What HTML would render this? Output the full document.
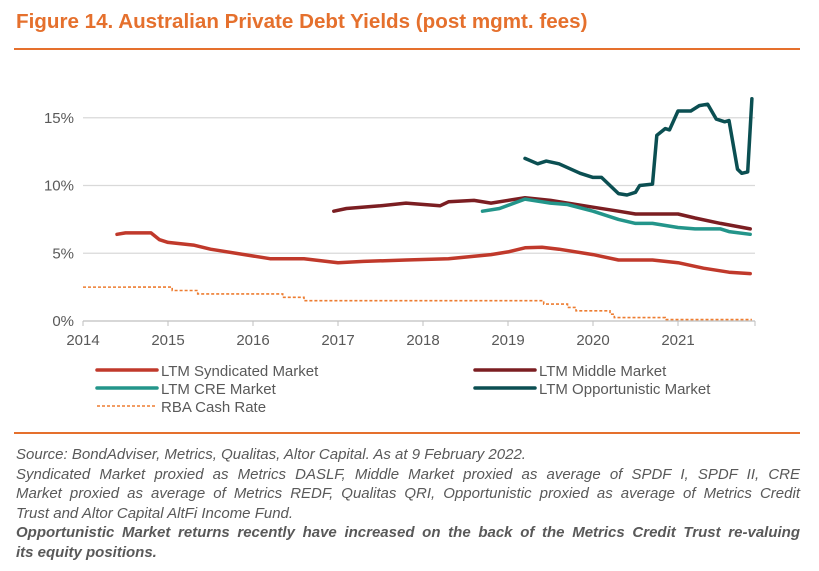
<!DOCTYPE html>
<html><head><meta charset="utf-8">
<style>
body{margin:0;width:819px;height:571px;background:#fff;overflow:hidden;font-family:"Liberation Sans Narrow","Liberation Sans",sans-serif;color:#595959}
.title{position:absolute;left:16px;top:10px;font-size:20.6px;font-weight:bold;color:#e5702d;white-space:nowrap}
.rule{position:absolute;left:14px;width:786px;height:2px;background:#e5702d}
.foot{position:absolute;left:16px;width:784px;font-size:15px;font-style:italic;line-height:19.5px;color:#595959}
.j{text-align:justify;text-align-last:justify;white-space:nowrap}
svg{position:absolute;left:0;top:0}
</style></head><body>
<div class="title">Figure 14. Australian Private Debt Yields (post mgmt. fees)</div>
<div class="rule" style="top:48px"></div>
<svg id="chart" width="819" height="430"></svg>
<div class="rule" style="top:432px"></div>
<div class="foot" style="top:445px">
<div>Source: BondAdviser, Metrics, Qualitas, Altor Capital. As at 9 February 2022.</div>
<div class="j">Syndicated Market proxied as Metrics DASLF, Middle Market proxied as average of SPDF I, SPDF II, CRE</div>
<div class="j">Market proxied as average of Metrics REDF, Qualitas QRI, Opportunistic proxied as average of Metrics Credit</div>
<div>Trust and Altor Capital AltFi Income Fund.</div>
<div class="j" style="font-weight:bold">Opportunistic Market returns recently have increased on the back of the Metrics Credit Trust re-valuing</div>
<div style="font-weight:bold">its equity positions.</div>
</div>
<script>
const yTicks=[0,5,10,15];
const xTicks=[2014,2015,2016,2017,2018,2019,2020,2021];
const synT=[2014.4,2014.5,2014.8,2014.9,2015,2015.3,2015.5,2016,2016.2,2016.6,2017,2017.3,2017.8,2018.3,2018.8,2019,2019.2,2019.4,2019.6,2020,2020.3,2020.7,2021,2021.3,2021.6,2021.85];
const synV=[6.4,6.5,6.5,6.0,5.8,5.6,5.3,4.8,4.6,4.6,4.3,4.4,4.5,4.6,4.9,5.1,5.4,5.45,5.3,4.9,4.5,4.5,4.3,3.9,3.6,3.5];
const midT=[2016.95,2017.1,2017.5,2017.8,2018.2,2018.3,2018.6,2018.8,2019.2,2019.5,2020,2020.3,2020.5,2021,2021.2,2021.5,2021.85];
const midV=[8.1,8.3,8.5,8.7,8.5,8.8,8.9,8.7,9.1,8.9,8.4,8.1,7.9,7.9,7.6,7.2,6.8];
const creT=[2018.7,2018.9,2019.2,2019.5,2019.7,2020,2020.3,2020.5,2020.7,2021,2021.2,2021.5,2021.6,2021.85];
const creV=[8.1,8.3,9.0,8.7,8.6,8.1,7.5,7.2,7.2,6.9,6.8,6.8,6.6,6.4];
const oppT=[2019.2,2019.35,2019.45,2019.6,2019.85,2020,2020.1,2020.2,2020.3,2020.4,2020.5,2020.55,2020.7,2020.75,2020.85,2020.9,2021,2021.15,2021.25,2021.35,2021.45,2021.55,2021.6,2021.7,2021.75,2021.82,2021.87];
const oppV=[12.0,11.6,11.8,11.6,10.9,10.6,10.6,10.0,9.4,9.3,9.5,10.0,10.1,13.7,14.2,14.1,15.5,15.5,15.9,16.0,14.9,14.7,14.8,11.2,10.9,11.0,16.4];
const cashT=[2014,2015.05,2015.35,2016.35,2016.6,2019.42,2019.7,2019.8,2020.2,2020.25,2020.85,2021.87];
const cashV=[2.5,2.25,2.0,1.75,1.5,1.25,1.0,0.75,0.5,0.25,0.1,0.1];

const X=t=>83+85*(t-2014), Y=v=>321-v*13.55;
const svg=document.getElementById('chart'),NS='http://www.w3.org/2000/svg';
function el(tag,a,txt){const e=document.createElementNS(NS,tag);for(const k in a)e.setAttribute(k,a[k]);if(txt!=null)e.textContent=txt;svg.appendChild(e);return e;}
yTicks.forEach(v=>{
 if(v>0){const g=el('line',{x1:83,x2:755,y1:Y(v),y2:Y(v),stroke:'#d9d9d9','stroke-width':1.3});
 
 }
 const t=el('text',{x:74,y:Y(v)+5,'text-anchor':'end','font-size':15,fill:'#595959'},v+'%');
 
 
});
const ax=el('line',{x1:83,x2:755,y1:321,y2:321,stroke:'#bfbfbf','stroke-width':1.3});


xTicks.forEach(y=>{
 el('line',{x1:X(y),x2:X(y),y1:321,y2:326,stroke:'#bfbfbf'});
 const t=el('text',{x:X(y),y:345,'text-anchor':'middle','font-size':15,fill:'#595959'},y);
 
 
});
el('line',{x1:755,x2:755,y1:321,y2:326,stroke:'#bfbfbf'});
function series(T,V,color,name,w){
 const d=T.map((t,i)=>(i?'L':'M')+X(t).toFixed(1)+','+Y(V[i]).toFixed(1)).join('');
 const p=el('path',{d:d,fill:'none',stroke:color,'stroke-width':w,'stroke-linejoin':'round','stroke-linecap':'round'});
 
 
}
let cd='M'+X(cashT[0])+','+Y(cashV[0]);
for(let i=1;i<cashT.length;i++){cd+='L'+X(cashT[i]).toFixed(1)+','+Y(cashV[i-1]).toFixed(1)+'L'+X(cashT[i]).toFixed(1)+','+Y(cashV[i]).toFixed(1);}
const cp=el('path',{d:cd,fill:'none',stroke:'#ed7d31','stroke-width':1.6,'stroke-dasharray':'3,2'});


series(synT,synV,'#c0392b','series-syndicated',3.5);
series(midT,midV,'#7b1e22','series-middle-market',3.5);
series(creT,creV,'#23958a','series-cre',3.5);
series(oppT,oppV,'#0b4f52','series-opportunistic',3.5);
const leg=[['LTM Syndicated Market','#c0392b',97,370,0],['LTM Middle Market','#7b1e22',475,370,0],['LTM CRE Market','#23958a',97,388,0],['LTM Opportunistic Market','#0b4f52',475,388,0],['RBA Cash Rate','#ed7d31',97,406,1]];
leg.forEach(l=>{
 const ln=el('line',{x1:l[2],x2:l[2]+60,y1:l[3],y2:l[3],stroke:l[1],'stroke-width':l[4]?1.6:3.5,'stroke-linecap':l[4]?'butt':'round'});
 if(l[4])ln.setAttribute('stroke-dasharray','3,2');
 const t=el('text',{x:l[2]+64,y:l[3]+6,'font-size':15,fill:'#595959'},l[0]);
 
 
});
</script>
</body></html>
